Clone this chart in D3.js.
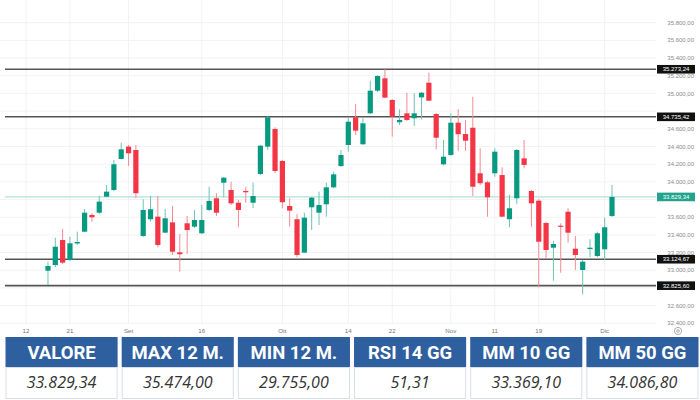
<!DOCTYPE html>
<html>
<head>
<meta charset="utf-8">
<script src="https://cdn.jsdelivr.net/npm/d3@7"></script>
<style>
html,body{margin:0;padding:0;background:#fff;}
svg{display:block;}
</style>
</head>
<body>
<svg id="chart" width="700" height="400"></svg>
<script>
// ---- DATA ----
const tickLabels = ["12","21","Set","16","Ott","14","22","Nov","11","19","Dic"];
const tickDay    = [0, 6, 14, 24, 35, 44, 50, 58, 64, 70, 79]; // trading-day index
const firstCandleDay = 3;
const openV  = [32995,33059,33342,33116,33303,33436,33625,33651,33832,33908,34259,34398,34360,33388,33577,33606,33425,33542,33203,33531,33493,33418,33682,33814,33990,33908,33764,33897,33764,34089,34398,34598,34236,33727,33577,33199,33712,33651,33746,33938,34179,34417,34730,34425,34775,35031,35171,34926,34674,34775,34719,34956,35121,34767,34198,34304,34669,34541,34612,34097,33995,34097,34077,33577,33814,34266,33897,33787,33535,33255,33504,33662,33244,33003,33240,33161,33237,33614];
const highV  = [33097,33368,33467,33380,33436,33693,33644,33843,33964,34247,34443,34417,34417,33803,33840,33840,33693,33727,33410,33614,33682,33738,33945,33871,34055,34002,33795,33945,33990,34417,34745,34617,34247,33814,33636,33651,33829,33889,33990,34115,34360,34722,34880,34719,35144,35208,35273,34937,34821,35008,35001,35016,35234,34779,34473,34775,34821,34700,34963,34379,34010,34379,34165,33851,34371,34473,33908,33806,33546,33334,33531,33701,33387,33116,33350,33436,33595,33964];
const lowV   = [32833,33037,33071,33105,33286,33433,33549,33636,33829,33897,34253,34179,33814,33376,33549,33260,33421,33173,32984,33184,33478,33410,33670,33614,33825,33738,33486,33764,33704,34077,34360,34097,33701,33493,33147,33195,33455,33512,33606,33930,34168,34341,34530,34417,34767,35016,34948,34511,34643,34688,34632,34707,34914,34368,34187,34292,34352,34352,33840,33964,33606,34058,33602,33486,33750,34153,33493,32807,33127,32882,32972,33312,33003,32728,33147,33150,33116,33602];
const closeV = [33048,33266,33086,33305,33320,33651,33599,33776,33889,34199,34368,34323,33871,33682,33690,33286,33588,33210,33181,33455,33568,33568,33784,33651,34047,33757,33682,33882,33840,34409,34730,34123,33769,33674,33173,33595,33821,33738,33938,34085,34304,34680,34579,34662,35031,35197,34952,34737,34700,34700,34775,35008,34918,34499,34284,34669,34539,34465,33945,33984,33825,34341,33606,33701,34360,34191,33757,33323,33229,33297,33493,33425,33173,33097,33255,33418,33486,33829.34];
const axisTicks = [32400,32600,32800,33000,33200,33400,33600,33800,34000,34200,34400,34600,34800,35000,35200,35400,35600,35800];
const levelLines = [35273.24, 34735.42, 33124.67, 32825.60];
const lastValue = 33829.34;
const tableHeads = ["VALORE","MAX 12 M.","MIN 12 M.","RSI 14 GG","MM 10 GG","MM 50 GG"];
const tableValues = ["33.829,34","35.474,00","29.755,00","51,31","33.369,10","34.086,80"];

// ---- DRAW ----
const svg = d3.select("#chart");
const plotLeft = 0, plotRight = 656, plotTop = 0, plotBottom = 323;
const x = d3.scaleLinear().domain([0, 80]).range([26, 612]);
const y = d3.scaleLinear().domain([32400, 35800]).range([323.3, 22.7]);
const up = "#089981", down = "#f23645";
const fmt = v => {
  const s = v.toFixed(2).split(".");
  return s[0].replace(/\B(?=(\d{3})+(?!\d))/g, ".") + "," + s[1];
};

// grid
const grid = svg.append("g");
grid.selectAll("line.h").data(axisTicks).join("line")
  .attr("x1", plotLeft).attr("x2", plotRight)
  .attr("y1", d => y(d)).attr("y2", d => y(d))
  .attr("stroke", "#f2f2f2").attr("stroke-width", 1);
grid.selectAll("line.v").data(tickDay).join("line")
  .attr("x1", d => x(d)).attr("x2", d => x(d))
  .attr("y1", plotTop).attr("y2", plotBottom)
  .attr("stroke", "#f2f2f2").attr("stroke-width", 1);

// last value line
svg.append("line")
  .attr("x1", 5).attr("x2", plotRight)
  .attr("y1", y(lastValue)).attr("y2", y(lastValue))
  .attr("stroke", "#9fd9cf").attr("stroke-width", 1);

// level lines
svg.append("g").selectAll("line").data(levelLines).join("line")
  .attr("x1", 5).attr("x2", plotRight)
  .attr("y1", d => y(d)).attr("y2", d => y(d))
  .attr("stroke", "#555").attr("stroke-width", 1.6);

// candles
const candles = openV.map((o, i) => ({day: firstCandleDay + i, o, h: highV[i], l: lowV[i], c: closeV[i]}));
const cg = svg.append("g");
cg.selectAll("line").data(candles).join("line")
  .attr("x1", d => x(d.day)).attr("x2", d => x(d.day))
  .attr("y1", d => y(d.h)).attr("y2", d => y(d.l))
  .attr("stroke", d => d.c >= d.o ? "#6cc3b4" : "#f58a94")
  .attr("stroke-width", 1);
cg.selectAll("rect").data(candles).join("rect")
  .attr("x", d => x(d.day) - 2.6).attr("width", 5.2)
  .attr("y", d => y(Math.max(d.o, d.c)))
  .attr("height", d => Math.max(1.2, Math.abs(y(d.o) - y(d.c))))
  .attr("fill", d => d.c >= d.o ? up : down);

// right axis labels (those hidden behind a price box are skipped)
const boxed = levelLines.concat([lastValue]);
const visibleTicks = axisTicks.filter(t => boxed.every(b => Math.abs(y(t) - y(b)) > 6));
const ax = svg.append("g").attr("font-family", "Liberation Sans, Arial, sans-serif").attr("font-size", 6).attr("fill", "#8a8a8a");
ax.selectAll("text").data(visibleTicks).join("text")
  .attr("x", 694).attr("y", d => y(d) + 2.1).attr("text-anchor", "end")
  .text(d => fmt(d));

// level labels
const lab = svg.append("g").selectAll("g").data(levelLines).join("g");
lab.append("rect").attr("x", 657).attr("width", 38).attr("y", d => y(d) - 4.3).attr("height", 8.6).attr("fill", "#111");
lab.append("text").attr("x", 676).attr("y", d => y(d) + 2.2).attr("text-anchor", "middle")
  .attr("font-family", "Liberation Sans, Arial, sans-serif").attr("font-size", 6).attr("fill", "#fff")
  .text(d => fmt(d));
svg.append("rect").attr("x", 657).attr("width", 38).attr("y", y(lastValue) - 4.3).attr("height", 8.6).attr("fill", "#22a38d");
svg.append("text").attr("x", 676).attr("y", y(lastValue) + 2.2).attr("text-anchor", "middle")
  .attr("font-family", "Liberation Sans, Arial, sans-serif").attr("font-size", 6).attr("fill", "#fff")
  .text(fmt(lastValue));

// x axis labels
svg.append("g").selectAll("text").data(tickLabels).join("text")
  .attr("x", (d, i) => x(tickDay[i])).attr("y", 333)
  .attr("text-anchor", "middle")
  .attr("font-family", "Liberation Sans, Arial, sans-serif").attr("font-size", 6.2).attr("fill", "#777")
  .text(d => d);
// settings icon
svg.append("circle").attr("cx", 678).attr("cy", 331).attr("r", 3.6).attr("fill", "none").attr("stroke", "#999").attr("stroke-width", 0.8);
svg.append("circle").attr("cx", 678).attr("cy", 331).attr("r", 1.3).attr("fill", "none").attr("stroke", "#999").attr("stroke-width", 0.8);

// table
const cellX = d3.scaleBand().domain(d3.range(tableHeads.length)).range([5.5, 698.5]).paddingInner(0.035);
const tg = svg.append("g");
tg.selectAll("rect.h").data(tableHeads).join("rect")
  .attr("x", (d, i) => cellX(i)).attr("y", 337).attr("width", cellX.bandwidth()).attr("height", 30)
  .attr("fill", "#2e5f9f");
tg.selectAll("text.h").data(tableHeads).join("text")
  .attr("x", (d, i) => cellX(i) + cellX.bandwidth() / 2).attr("y", 358.5)
  .attr("text-anchor", "middle")
  .attr("font-family", "Roboto, sans-serif").attr("font-weight", "bold").attr("font-size", 18.5)
  .attr("fill", "#fff").text(d => d);
tg.selectAll("rect.v").data(tableValues).join("rect")
  .attr("x", (d, i) => cellX(i) + 0.5).attr("y", 367.5).attr("width", cellX.bandwidth() - 1).attr("height", 31)
  .attr("fill", "#fff").attr("stroke", "#d9dee6").attr("stroke-width", 1);
tg.selectAll("text.v").data(tableValues).join("text")
  .attr("x", (d, i) => cellX(i) + cellX.bandwidth() / 2).attr("y", 388)
  .attr("text-anchor", "middle")
  .attr("font-family", "Open Sans, sans-serif").attr("font-style", "italic").attr("font-size", 16)
  .attr("fill", "#333").text(d => d);
</script>
</body>
</html>
